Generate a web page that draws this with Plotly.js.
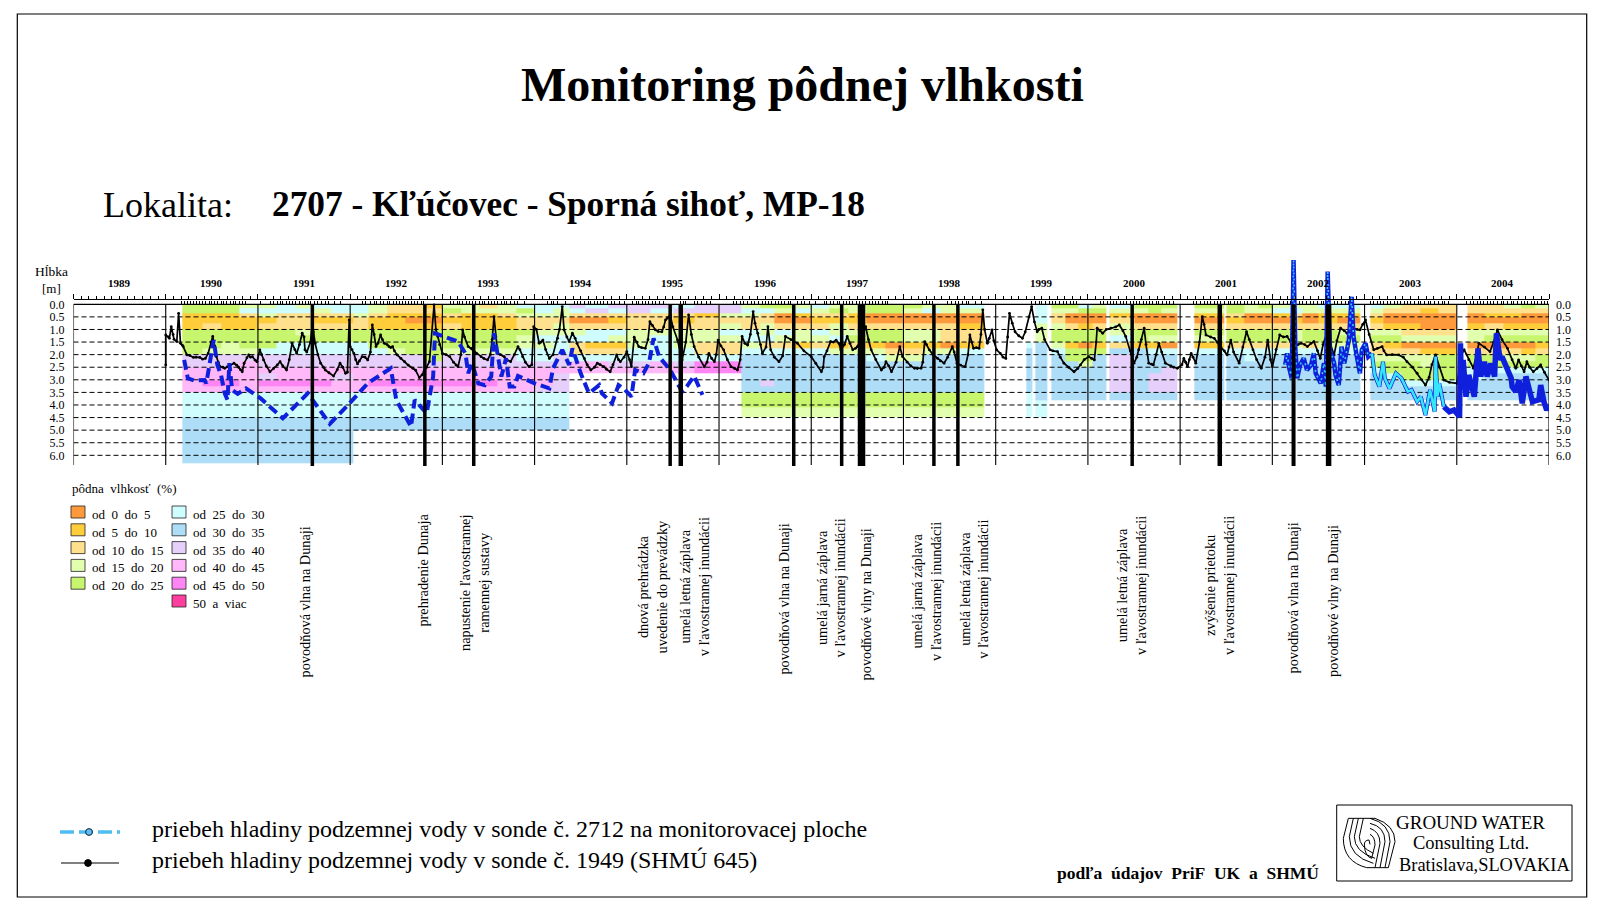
<!DOCTYPE html>
<html><head><meta charset="utf-8">
<script src="https://cdn.plot.ly/plotly-3.0.1.min.js"></script>
<style>html,body{margin:0;padding:0;background:#fff}#c{width:1602px;height:916px}</style>
</head><body><div id="c"></div>
<script>
// ---------- axis labels
const yearLabels=[1989,1990,1991,1992,1993,1994,1995,1996,1997,1998,1999,2000,2001,2002,2003,2004];
const yearEdges=[1989,1990,1991,1992,1993,1994,1995,1996,1997,1998,1999,2000,2001,2002,2003,2004,2005];
const depthTicks=[0,0.5,1,1.5,2,2.5,3,3.5,4,4.5,5,5.5,6];
const depthText=['0.0','0.5','1.0','1.5','2.0','2.5','3.0','3.5','4.0','4.5','5.0','5.5','6.0'];

// ---------- groundwater level, probe 1949 (SHMU 645): main turning points
const probe1949Date=[1990,1990,1990.04,1990.06,1990.09,1990.12,1990.14,1990.16,1990.19,1990.23,1990.3,1990.37,1990.43,1990.46,1990.51,1990.55,1990.59,1990.64,1990.7,1990.74,1990.79,1990.83,1990.85,1990.9,1990.94,1990.99,
1991.02,1991.06,1991.13,1991.21,1991.24,1991.31,1991.37,1991.42,1991.48,1991.51,1991.59,1991.62,1991.68,1991.73,1991.82,1991.89,1991.95,1991.99,
1992,1992.04,1992.08,1992.13,1992.19,1992.24,1992.28,1992.33,1992.37,1992.42,1992.46,1992.51,1992.59,1992.68,1992.75,1992.8,1992.86,1992.91,1992.95,
1993,1993.08,1993.17,1993.22,1993.28,1993.33,1993.42,1993.49,1993.56,1993.6,1993.67,1993.74,1993.82,1993.87,1993.94,1993.99,
1994.05,1994.09,1994.16,1994.25,1994.3,1994.32,1994.375,1994.41,1994.46,1994.54,1994.61,1994.68,1994.75,1994.82,1994.89,1994.93,
1995,1995.05,1995.08,1995.13,1995.2,1995.25,1995.31,1995.38,1995.42,1995.47,1995.55,1995.6,1995.67,1995.73,1995.84,1995.89,1995.95,1995.99,
1996.05,1996.13,1996.2,1996.25,1996.31,1996.37,1996.42,1996.47,1996.53,1996.56,1996.65,1996.72,1996.85,
1997,1997.11,1997.14,1997.21,1997.27,1997.32,1997.39,1997.45,1997.5,1997.59,1997.65,1997.76,1997.81,1997.87,1997.96,1997.99,
1998.12,1998.19,1998.23,1998.28,1998.37,1998.44,1998.53,1998.58,1998.67,1998.72,1998.76,1998.82,1998.86,1998.91,1998.96,
1999.01,1999.11,1999.15,1999.21,1999.29,1999.39,1999.45,1999.5,1999.59,1999.67,1999.74,1999.85,1999.92,
2000.01,2000.07,2000.1,2000.16,2000.25,2000.34,2000.41,2000.5,2000.55,2000.61,2000.66,2000.71,2000.77,2000.84,2000.97,
2001.04,2001.08,2001.12,2001.17,2001.24,2001.28,2001.37,2001.44,2001.51,2001.55,2001.64,2001.72,2001.79,2001.88,2001.95,
2002,2002.08,2002.16,2002.24,2002.31,2002.38,2002.45,2002.52,2002.59,2002.67,2002.74,2002.81,2002.88,2002.95,
2003.01,2003.1,2003.19,2003.24,2003.37,2003.46,2003.57,2003.66,2003.77,2003.86,
2004,2004.08,2004.18,2004.24,2004.36,2004.44,2004.55,2004.64,2004.67,2004.73,2004.76,2004.83,2004.91,2005];
const probe1949Depth=[2.41,1.22,1.35,0.89,1.39,1.48,0.36,1.55,1.68,2.01,2.11,2.11,2.15,1.95,1.28,2.08,2.48,2.54,2.41,2.34,2.5,2.68,2.34,2.01,2.08,2.28,
1.81,2.21,2.68,2.41,2.28,2.61,1.55,1.95,1.15,1.81,0.75,1.55,2.34,2.61,2.85,2.34,2.74,0.62,
1.68,1.95,2.37,2.08,2.21,0.82,1.68,1.22,1.55,1.68,1.68,2.01,2.28,2.54,2.91,2.68,2.28,0.02,1.28,
1.95,2.08,2.48,1.02,1.68,1.81,2.08,2.21,0.49,1.95,2.08,2.28,1.68,2.08,2.48,0.89,
1.55,1.42,2.15,1.35,0.09,1.02,1.48,1.15,1.55,2.15,2.61,2.34,2.48,2.68,2.01,2.28,
1.88,2.48,1.31,1.68,1.75,0.69,1.02,1.09,0.62,0.42,1.42,2.21,0.42,1.68,2.48,1.95,2.28,1.42,
1.81,2.48,2.61,1.28,1.62,0.29,1.15,1.95,0.89,1.81,2.28,1.28,1.55,
2.08,2.68,2.08,1.48,1.42,1.81,1.28,1.81,1.68,0.89,1.81,2.61,2.28,2.68,1.68,2.08,
2.54,2.54,1.48,1.81,2.15,2.34,1.68,2.34,2.48,1.22,1.75,1.75,0.22,1.55,1.02,
1.81,2.15,0.36,1.09,1.35,0.09,1.09,0.95,1.81,1.88,2.34,2.68,2.41,
2.08,2.21,0.95,1.15,0.95,0.82,1.28,2.34,1.81,0.95,2.34,2.41,1.55,2.34,2.54,
2.15,2.48,1.95,2.34,0.49,1.22,1.35,1.68,2.01,1.42,2.34,1.09,1.81,2.54,1.42,
2.48,1.22,1.28,1.68,1.55,1.68,1.48,2.15,1.15,2.01,0.95,1.15,0.95,1.02,
0.62,1.81,1.68,2.01,2.01,2.28,2.74,3.21,2.01,3.01,
3.14,1.81,2.54,1.55,1.88,1.02,1.75,2.54,2.21,2.68,2.28,2.68,2.41,3.01];
// further readings of the same curve between the turning points
const probe1949MoreDate=[1990.03,1990.08,1990.18,1990.26,1990.33,1990.4,1990.49,1990.53,1990.57,1990.62,1990.67,1990.77,1990.81,1990.88,1990.92,1990.97,1991.04,1991.09,1991.17,1991.27,1991.34,1991.4,1991.45,1991.5,1991.53,1991.57,1991.6,1991.65,1991.71,1991.77,1991.86,1991.92,1991.97,
1992.02,1992.06,1992.1,1992.16,1992.22,1992.26,1992.3,1992.35,1992.4,1992.44,1992.48,1992.55,1992.63,1992.71,1992.78,1992.83,1992.93,1992.97,
1993.04,1993.12,1993.15,1993.2,1993.24,1993.31,1993.37,1993.45,1993.52,1993.54,1993.58,1993.63,1993.7,1993.78,1993.84,1993.9,1993.97,
1994.02,1994.07,1994.12,1994.2,1994.27,1994.35,1994.44,1994.5,1994.57,1994.65,1994.71,1994.78,1994.85,1994.91,1994.97,
1995.03,1995.11,1995.16,1995.23,1995.28,1995.34,1995.4,1995.44,1995.5,1995.58,1995.64,1995.7,1995.78,1995.87,1995.92,1995.97,
1996.02,1996.09,1996.17,1996.23,1996.28,1996.34,1996.39,1996.45,1996.51,1996.6,1996.69,1996.78,1996.92,1997.05,
1997.13,1997.17,1997.24,1997.3,1997.36,1997.42,1997.48,1997.55,1997.62,1997.7,1997.79,1997.84,1997.92,
1998.04,1998.08,1998.15,1998.21,1998.25,1998.32,1998.4,1998.48,1998.55,1998.62,1998.7,1998.74,1998.79,1998.84,1998.88,1998.93,1998.98,
1999.05,1999.08,1999.13,1999.18,1999.25,1999.32,1999.36,1999.42,1999.47,1999.53,1999.62,1999.7,1999.79,1999.89,1999.96,
2000.04,2000.09,2000.13,2000.2,2000.3,2000.38,2000.46,2000.53,2000.58,2000.63,2000.69,2000.74,2000.8,2000.9,2000.93,
2001.02,2001.06,2001.1,2001.14,2001.21,2001.26,2001.33,2001.4,2001.48,2001.53,2001.58,2001.68,2001.75,2001.83,2001.92,2001.98,
2002.04,2002.12,2002.2,2002.28,2002.35,2002.42,2002.49,2002.55,2002.63,2002.7,2002.78,2002.85,2002.92,2002.98,
2003.05,2003.14,2003.21,2003.3,2003.42,2003.52,2003.62,2003.7,2003.73,2003.81,2003.92,
2004.04,2004.06,2004.13,2004.21,2004.3,2004.4,2004.49,2004.6,2004.7,2004.79,2004.87,2004.95];
const probe1949MoreDepth=[1.3,1.2,1.62,2.03,2.1,2.18,1.5,1.65,2.3,2.5,2.48,2.42,2.6,2.12,2.1,2.22,2,2.45,2.55,2.45,2.2,1.8,1.6,1.3,1.9,1.5,1.1,2,2.5,2.72,2.6,2.5,2.7,
1.8,2.2,2.25,2.1,1.9,1.2,1.55,1.4,1.6,1.72,1.85,2.15,2.42,2.62,2.8,2.5,1,1.6,
2,2.3,2.42,2,1.3,1.75,1.95,2.15,2,1.4,1.3,2,2.2,2,1.8,2.3,2.4,
1,1.5,1.8,2,1,1.3,1.35,1.85,2.4,2.5,2.4,2.58,2.4,2.2,2.1,
2.2,1.5,1.72,1.4,0.85,1.08,0.9,0.55,0.9,1.9,1.5,1.2,2.1,2.3,2.15,2,
1.65,2.2,2.55,2.2,1.55,1.2,0.75,1.6,1.7,2.1,2.05,1.4,1.85,2.35,
2.5,1.85,1.5,1.55,1.6,1.55,1.75,1.3,1.4,2.2,2.5,2.45,2.3,
2.3,2.45,2.55,2.3,1.6,2,2.25,2.1,1.9,2.42,2,1.5,1.72,1.2,1,1.35,1.45,
1.95,2.1,1.3,0.75,1.25,1.1,0.5,0.7,1,1.4,1.85,2.1,2.5,2.55,2.2,
2.15,1.5,1.05,1,0.9,1.05,1.85,2.1,1.4,1.6,2.38,2,1.9,2.45,2.5,
2.4,2.3,2.2,2.1,1.5,0.8,1.3,1.5,1.85,1.7,1.9,1.7,1.4,2.2,2.1,2.2,
1.8,1.3,1.5,1.6,1.6,1.55,1.85,1.6,1.6,1.45,1.05,1.05,1,0.8,
1.2,1.75,1.85,2,2.1,2.5,3,2.9,2.4,2.5,3.1,
2.4,1.9,2.2,2.05,1.7,1.5,1.4,2.2,2.45,2.5,2.55,2.7];

// ---------- groundwater level, probe 2712 (early dashed record)
const probe2712Date=[1990.2,1990.24,1990.31,1990.42,1990.44,1990.47,1990.52,1990.56,1990.6,1990.64,1990.67,1990.69,1990.72,1990.78,1990.87,1991.03,1991.27,1991.54,1991.78,1992.01,1992.19,1992.44,1992.5,1992.66,1992.7,1992.83,1992.9,1992.92,1993.17,1993.25,1993.28,1993.32,1993.39,1993.46,1993.53,1993.56,1993.64,1993.69,1993.73,1993.78,1993.82,1994,1994.11,1994.16,1994.2,1994.3,1994.375,1994.41,1994.5,1994.59,1994.7,1994.73,1994.84,1994.91,1994.98,1995.05,1995.09,1995.18,1995.24,1995.29,1995.35,1995.47,1995.6,1995.65,1995.73,1995.82];
const probe2712Depth=[2.21,2.94,3.03,3.01,3.14,2.48,1.42,2.41,2.81,3.54,3.8,2.34,3.4,3.56,3.34,3.74,4.53,3.54,4.75,3.87,3.14,2.54,3.8,4.86,3.8,4.33,2.87,1.15,1.48,1.95,2.74,2.34,3.14,3.21,2.87,1.15,2.87,2.15,3.27,3.27,2.85,3.14,3.27,3.34,2.54,1.81,2.41,1.75,2.74,3.54,3.21,3.54,3.93,3.21,3.4,3.67,2.61,2.74,2.34,1.35,2.08,2.61,3.47,3.27,2.85,3.6];

// ---------- groundwater level, probe 2712 (dense record from 2002)
const denseDate=[2002.14,2002.16,2002.18,2002.21,2002.23,2002.25,2002.27,2002.3,2002.34,2002.375,2002.42,2002.45,2002.47,2002.525,2002.56,2002.58,2002.6,2002.625,2002.67,2002.685,2002.72,2002.75,2002.78,2002.83,2002.86,2002.88,2002.91,2002.95,2002.97,2003.01,2003.04,2003.08];
const denseDepth=[2.41,1.95,2.48,2.94,-1.76,1.81,2.94,2.41,2.15,2.61,2.41,1.95,2.74,3.14,2.34,3.27,-1.3,1.81,2.34,2.81,3.21,1.68,2.34,1.42,-0.3,1.28,1.95,2.74,1.81,1.55,2.08,1.95];
const mixedDate=[2003.08,2003.11,2003.16,2003.2,2003.22,2003.27,2003.34,2003.4,2003.47,2003.51,2003.57,2003.61,2003.66,2003.71,2003.76,2003.77,2003.79,2003.81,2003.86];
const mixedDepth=[1.95,2.81,3.27,2.28,2.94,3.34,2.74,2.94,3.47,3.4,3.87,3.67,4.4,3.4,4.27,2.08,3.67,3.14,4.07];
const lateDate=[2003.86,2003.92,2003.97,2004.03,2004.04,2004.05,2004.07,2004.1,2004.13,2004.19,2004.23,2004.26,2004.3,2004.33,2004.37,2004.41,2004.43,2004.47,2004.49,2004.55,2004.59,2004.6,2004.64,2004.675,2004.71,2004.75,2004.78,2004.82,2004.89,2004.91,2004.945,2004.975,2005];
const lateDepth=[4.07,4.27,4.2,4.47,1.55,3.27,2.21,3.67,2.81,3.67,1.75,2.87,2.28,2.87,2.35,2.87,1.15,2.21,2.08,2.61,2.94,3.27,3.47,3.01,3.94,2.87,3.4,3.87,3.8,3.21,3.87,4.2,4];

// ---------- events (thick vertical lines)
const eventDates=[1991.59,1992.81,1993.34,1995.47,1995.585,1996.81,1997.33,1997.545,1998.33,1998.59,2000.48,2001.43,2002.23,2002.61];
const eventWeights=[3.5,3.5,3.5,3.5,4.5,3.5,3.5,7.5,3.5,3.5,3.5,4.5,4,5.5];
const eventText=['povodňová vlna na Dunaji','prehradenie Dunaja','napustenie ľavostrannej<br>ramennej sustavy','dnová prehrádzka<br>uvedenie do prevádzky','umelá letná záplava<br>v ľavostrannej inundácii','povodňová vlna na Dunaji','umelá jarná záplava<br>v ľavostrannej inundácii','povodňové vlny na Dunaji','umelá jarná záplava<br>v ľavostrannej inundácii','umelá letná záplava<br>v ľavostrannej inundácii','umelá letná záplava<br>v ľavostrannej inundácii','zvýšenie prietoku<br>v ľavostrannej inundácii','povodňová vlna na Dunaji','povodňové vlny na Dunaji'];
const eventTextX=[304.5,423,474.6,652.4,694.8,783.6,831,866.4,926,973.7,1131,1219,1292.5,1333];
const eventTextY=[602,569.6,583.4,587,586.5,599,588.5,604,592,589,586,586,598,601];

// ---------- measurement dates on the upper ruler (hundredths of a year, by year)
const md1990=[17,20,24,27,30,33,37,40,43,47,50,53,56,60,63,66,70,73,76,80,83,86];
const md1991=[3,14,17,21,24,27,31,34,38,41,45,48,52,55,57,61,65,69,73,77,83,90];
const md1992=[13,17,22,26,29,33,36,40,43,47,50,53,57,60,63,67,70,73,77,80];
const md1993=[9,12,16,19,22,26,29,33,36,40,43,46,50,53,57,60,64,67,70,74,78,82,89];
const md1994=[14,18,21,25,33,43,47,50,54,58,61,65,68,72,75,79,83,87,92,97];
const md1995=[6,10,13,17,20,24,28,31,35,40,58,61,64,73,77,81,86,91];
const md1996=[16,19,23,27,31,35,38,43,47,50,54,57,61,64,68,71,75,78,85,89,93,98];
const md1997=[5,14,17,21,24,28,31,35,38,42,45,49,52,56,59,63,66,70,73,77,80,83];
const md1998=[21,25,28,32,48,52,56,60,64,68,71,78,85];
const md1999=[39,43,47,50,54,58,62,65,69,73,77,81,84,88];
const md2000=[14,17,21,24,28,31,35,39,42,46,49,53,56,60,63,67,70,74,77,81,85,89,93];
const md2001=[15,18,22,26,30,33,37,41,44,48,52,55,59,62,66,70,73,77,81,85,89,93,97];
const md2002=[8,12,16,20,29,33,37,41,45,49,53,56,67,71,75,79,83];
const md2003=[6,10,14,17,21,25,28,32,36,39,43,47,50,54,58,61,65,69,72,76,80,84,87,91];
const md2004=[11,15,18,22,26,29,33,37,40,44,48,51,55,59,62,66,70,73,77,81,84,88,92,95,98];
const mdYears=[[1990,md1990],[1991,md1991],[1992,md1992],[1993,md1993],[1994,md1994],[1995,md1995],[1996,md1996],[1997,md1997],[1998,md1998],[1999,md1999],[2000,md2000],[2001,md2001],[2002,md2002],[2003,md2003],[2004,md2004]];

// ---------- soil moisture: class of each depth layer (top to bottom), one list per time column
const layerEdges=[0,.15,.35,.5,.75,1,1.25,1.5,1.75,2,2.25,2.5,2.75,3,3.25,3.5,3.8,4.1,4.5,5,5.6,6.3];
const columnEdges=[1990.18,1990.4,1990.6,1990.8,1991,1991.2,1991.4,1991.6,1991.8,1992.03,1992.2,1992.4,1992.6,1992.8,1993,1993.2,1993.4,1993.6,1993.8,1994,1994.2,1994.375,1994.55,1994.8,1995,1995.25,1995.5,1995.73,1996,1996.24,1996.45,1996.6,1996.8,1997,1997.2,1997.4,1997.6,1997.8,1998,1998.2,1998.4,1998.6,1998.88,1999.33,1999.4,1999.43,1999.56,1999.6,1999.75,1999.9,2000.05,2000.2,2000.23,2000.5,2000.65,2000.8,2000.97,2001.15,2001.48,2001.5,2001.7,2001.85,2002,2002.2,2002.33,2002.5,2002.7,2002.95,2003.06,2003.2,2003.4,2003.6,2003.8,2003.99,2004.11,2004.3,2004.5,2004.7,2004.85,2005];
const m1990=[[5,5,2,2,2,5,5,5,5,8,8,9,9,9,9,6,6,6,7,7,7],[5,5,2,2,3,5,5,5,4,8,8,9,9,10,9,6,6,6,7,7,7],[5,5,2,2,2,5,5,4,4,8,8,9,9,10,9,6,6,6,7,7,7],[4,6,3,2,2,5,5,5,4,8,9,9,9,9,9,6,6,6,7,7,7]];
const m1991=[[4,6,4,2,3,5,5,5,6,8,8,9,8,10,9,6,6,6,7,7,7],[6,6,3,3,3,5,5,6,6,8,8,9,9,10,9,6,6,6,7,7,7],[4,6,3,3,3,4,5,6,6,8,8,9,9,10,9,6,6,6,7,7,7],[6,4,3,2,3,5,5,6,6,8,8,9,9,10,9,6,6,6,7,7,7],[6,6,3,2,3,5,5,6,6,8,8,9,8,9,9,6,6,6,7,7,7]];
const m1992=[[6,6,4,3,3,5,5,6,6,8,8,9,9,9,9,6,6,6,7],[4,4,3,2,2,5,5,5,6,8,8,9,9,10,9,6,6,6,7],[3,3,2,2,2,5,5,5,4,8,8,9,9,10,9,6,6,6,7],[3,3,2,1,2,5,5,5,5,8,8,9,9,10,9,6,6,6,7],[2,3,2,1,2,5,5,5,5,5,8,9,9,10,9,6,6,6,7]];
const m1993=[[4,5,3,2,3,5,5,5,4,8,8,9,9,10,9,6,6,6,7],[4,4,2,2,2,5,5,5,4,8,8,9,9,10,9,6,6,6,7],[3,4,2,2,2,5,5,5,4,8,8,9,9,10,9,6,6,6,7],[4,4,3,2,2,5,5,5,4,8,8,9,9,9,9,6,6,6,7],[6,5,4,3,3,5,4,4,6,6,8,9,9,9,9,6,6,6,7]];
const m1994=[[6,6,4,3,3,4,6,4,6,6,8,9,9,9,8,6,6,6,7],[6,4,4,3,4,4,6,6,6,8,8,9,8,8,8,6,6,6,7],[8,6,3,1,3,4,6,3,3,6,9,9],[6,8,3,1,3,6,6,2,3,6,9,9],[8,6,3,2,3,6,4,2,3,6,8,9]];
const m1995=[[8,8,3,3,3,4,4,4,6,6,8,9],[8,6,3,3,3,4,6,6,6,6,9,9],[6,8,3,2,3,4,4,4,6,6,8,9],[8,8,2,3,3,4,4,3,3,6,10,10]];
const m1996=[[8,8,4,3,4,6,4,3,3,6,10,10],[4,6,4,3,3,6,6,4,6,7,7,7,7,7,7,5,5,4],[5,6,3,3,4,4,6,3,6,7,7,7,7,8,7,5,5,4],[5,4,1,1,3,6,4,3,6,7,7,7,7,7,7,5,5,4],[4,6,2,1,3,4,4,2,6,7,7,7,7,7,7,5,5,4]];
const m1997=[[6,4,3,2,3,6,4,3,6,7,7,7,7,7,7,5,5,4],[4,5,3,2,4,4,6,2,4,7,7,7,7,7,7,5,5,4],[4,4,2,2,3,4,5,3,4,7,7,7,7,7,7,5,5,4],[5,5,1,1,3,5,5,2,4,6,7,7,7,7,7,5,5,4],[5,5,1,1,3,5,5,1,3,4,7,7,7,7,7,5,5,4]];
const m1998=[[5,4,1,1,3,4,4,2,3,4,7,7,7,7,7,5,5,4],[4,6,1,1,3,4,4,2,4,7,7,7,7,7,7,5,5,4],[4,4,1,1,3,3,3,1,4,7,7,7,7,7,7,5,5,4],[6,4,1,1,2,3,3,2,6,7,7,7,7,7,7,5,5,4],[]];
const m1999=[[0,0,0,0,0,0,0,6,7,7,7,7,7,7,7,6,6,6],[],[6,6,6,6,4,4,4,7,7,7,7,7,7,7,7,7,6,6],[],[5,4,3,3,4,5,5,4,6,7,7,7,7,7,7,7],[5,4,1,1,3,5,5,2,5,5,7,7,7,7,7,7],[6,5,1,1,2,5,5,1,5,5,4,7,7,7,7,7]];
const m2000=[[4,5,1,1,3,5,5,2,5,7,7,7,7,7,7,7],[],[6,4,2,3,4,4,6,3,7,8,8,8,8,8,8,7],[5,4,1,1,3,5,5,2,7,7,7,7,7,7,7,7],[5,5,1,1,3,5,4,2,6,7,7,7,8,8,8,7],[5,4,1,1,3,5,4,1,6,7,7,8,8,8,8,7],[]];
const m2001=[[5,4,2,1,3,5,4,2,6,7,7,7,7,7,7,7],[],[5,5,3,2,3,5,5,3,6,7,7,7,7,7,7,7],[4,4,1,1,3,5,5,3,6,6,7,7,7,7,7,7],[5,4,1,1,3,5,5,3,6,7,7,7,7,7,7,7]];
const m2002=[[4,6,2,1,3,5,5,3,6,7,7,7,7,7,7,7],[4,6,3,2,3,4,4,4,6,7,7,7,7,7,7,7],[4,4,1,1,3,5,5,3,6,7,7,7,7,7,7,7],[6,4,2,2,3,5,5,4,6,7,7,7,7,7,7,7],[6,4,2,1,3,4,5,4,6,7,7,7,7,7,7,7],[]];
const m2003=[[6,4,3,2,3,4,5,3,3,4,5,6,7,7,7,7],[4,3,1,1,2,4,5,2,3,4,5,5,6,7,7,7],[3,3,1,1,2,3,4,1,3,4,5,5,5,6,7,7],[3,2,1,1,1,3,4,1,2,4,4,5,5,6,7,7],[3,3,1,1,1,3,4,1,2,5,5,5,5,6,7,7],[]];
const m2004=[[3,3,1,1,2,4,4,1,3,5,5,6,6,7,7,7],[3,3,2,1,3,4,5,1,3,5,5,6,7,7,7,7],[4,3,2,1,2,4,5,1,3,4,5,6,7,7,7,7],[5,3,1,1,2,4,5,1,2,4,5,6,7,7,7,7],[4,3,1,1,2,4,5,2,3,5,5,6,7,7,7,7]];

// ---------- legend
const classNames=['od&nbsp; 0&nbsp; do&nbsp; 5','od&nbsp; 5&nbsp; do&nbsp; 10','od&nbsp; 10&nbsp; do&nbsp; 15','od&nbsp; 15&nbsp; do&nbsp; 20','od&nbsp; 20&nbsp; do&nbsp; 25','od&nbsp; 25&nbsp; do&nbsp; 30','od&nbsp; 30&nbsp; do&nbsp; 35','od&nbsp; 35&nbsp; do&nbsp; 40','od&nbsp; 40&nbsp; do&nbsp; 45','od&nbsp; 45&nbsp; do&nbsp; 50','50&nbsp; a&nbsp; viac'];
const classColors=['#FF9A3C','#FFCC3A','#FFE08C','#E2FFB0','#C8F56E','#CFFCFC','#AEDDF8','#E6CFFA','#FFB8F8','#FF85F5','#FF3FA0'];

// ---------- drawing
const W=1602,H=916,SERIF='"Liberation Serif"';
const X0=73.5,X1=1549,Ytop=250,Ybot=466;
const depthAt=p=>(p-304.3)/25.17;
const yRange=[depthAt(Ybot),depthAt(Ytop)];
const px=x=>x/W, py=y=>1-y/H;

const columns=[].concat(m1990,m1991,m1992,m1993,m1994,m1995,m1996,m1997,m1998,m1999,m2000,m2001,m2002,m2003,m2004);
const nLayers=layerEdges.length-1;
const z=[];
for(let r=0;r<nLayers;r++){z.push(columns.map(c=>(c[r]?c[r]:null)));}
const scale=[];
classColors.forEach((c,i)=>{scale.push([i/11,c]);scale.push([(i+1)/11,c]);});

function multi(xs,y0,y1){const a=[],b=[];xs.forEach(v=>{a.push(v,v,null);b.push(y0,y1,null);});return [a,b];}
function rules(ds){const a=[],b=[];ds.forEach(d=>{a.push(1989,2005,null);b.push(d,d,null);});return [a,b];}
const [gx,gy]=rules(depthTicks.slice(1));
const [yx,yy]=multi(yearEdges,0,6.38);
const blackOrder=probe1949Date.concat(probe1949MoreDate).map((d,i)=>[d,probe1949Depth.concat(probe1949MoreDepth)[i]]).sort((p,q)=>p[0]-q[0]);

const traces=[
 {type:'heatmap',x:columnEdges,y:layerEdges,z:z,zmin:.5,zmax:11.5,colorscale:scale,showscale:false,hoverinfo:'skip',zsmooth:false},
 {type:'scatter',mode:'lines',x:gx,y:gy,line:{color:'#000',width:1,dash:'5px,3px'},hoverinfo:'skip'},
 {type:'scatter',mode:'lines',x:[1989,2005],y:[0,0],line:{color:'#000',width:1.2},hoverinfo:'skip'},
 {type:'scatter',mode:'lines',x:yx,y:yy,line:{color:'#000',width:1.1},hoverinfo:'skip'}
];
eventDates.forEach((d,i)=>traces.push({type:'scatter',mode:'lines',x:[d,d],y:[0,6.46],line:{color:'#000',width:eventWeights[i]},xaxis:'x2',yaxis:'y2',hoverinfo:'skip'}));
traces.push(
 {type:'scatter',mode:'lines+markers',x:blackOrder.map(p=>p[0]),y:blackOrder.map(p=>p[1]),line:{color:'#000',width:1.7},marker:{color:'#000',size:2.8},hoverinfo:'skip'},
 {type:'scatter',mode:'lines',x:probe2712Date,y:probe2712Depth,line:{color:'#0F20DC',width:4,dash:'10px,5px'},hoverinfo:'skip'},
 {type:'scatter',mode:'lines',x:lateDate,y:lateDepth,line:{color:'#0F20DC',width:5.5},hoverinfo:'skip'},
 {type:'scatter',mode:'lines',x:denseDate,y:denseDepth,line:{color:'#0F20DC',width:4.5},hoverinfo:'skip'},
 {type:'scatter',mode:'lines',x:mixedDate,y:mixedDepth,line:{color:'#0F20DC',width:4},hoverinfo:'skip'},
 {type:'scatter',mode:'lines',x:denseDate,y:denseDepth,line:{color:'#38C8F8',width:1.6,dash:'2px,4px'},hoverinfo:'skip'},
 {type:'scatter',mode:'lines',x:mixedDate,y:mixedDepth,line:{color:'#35E6FA',width:2.6},hoverinfo:'skip'}
);

// ruler ticks
const monthTicks=[];
yearEdges.slice(0,-1).forEach(y=>{for(let m=1;m<12;m++)monthTicks.push(y+m/12);});
const measureTicks=[];
mdYears.forEach(([y,a])=>a.forEach(h=>measureTicks.push(y+h/100)));

const anns=[];
function T(text,x,y,size,opt){anns.push(Object.assign({xref:'paper',yref:'paper',x:px(x),y:py(y),text:text,showarrow:false,xanchor:'left',yanchor:'middle',borderpad:0,font:{family:SERIF,size:size,color:'#000'}},opt||{}));}
T('<b>Monitoring pôdnej vlhkosti</b>',802,85,48,{xanchor:'center'});
T('Lokalita:',102,205,36);
T('<b>2707 - Kľúčovec - Sporná sihoť, MP-18</b>',271,205,35.3);
T('Hĺbka',51,271,13.5,{xanchor:'center'});
T('[m]',51,288,13,{xanchor:'center'});
yearLabels.forEach(y=>anns.push({xref:'x',yref:'paper',x:y+.5,y:py(283.5),text:'<b>'+y+'</b>',showarrow:false,xanchor:'center',yanchor:'middle',font:{family:SERIF,size:11,color:'#000'}}));
eventText.forEach((t,i)=>T(t,eventTextX[i],eventTextY[i],14.3,{xanchor:'center',textangle:-90,align:'center'}));
T('pôdna&nbsp; vlhkosť&nbsp; (%)',71,488,13);
const shapes=[];
function R(x0,y0,x1,y1,line,fill){shapes.push({type:'rect',xref:'paper',yref:'paper',x0:px(x0),x1:px(x1),y0:py(y0),y1:py(y1),line:line,fillcolor:fill||'rgba(0,0,0,0)'});}
classNames.forEach((n,i)=>{
 const left=i<5, row=left?i:i-5;
 const sx=left?71:172, cy=512+row*17.8;
 R(sx,cy-6,sx+14,cy+6,{color:'#222',width:.8},classColors[i]);
 T(n,sx+20,cy+2.5,13);
});
// bottom legend
R(17.3,14,1586.7,897,{color:'#000',width:1.2});
R(1336.7,805,1572,881,{color:'#000',width:1});
function L(x0,y,x1,line){shapes.push({type:'line',xref:'paper',yref:'paper',x0:px(x0),x1:px(x1),y0:py(y),y1:py(y),line:line});}
L(60,832,120,{color:'#4FBDF0',width:3.4,dash:'14px,5px'});
L(61,863,119,{color:'#000',width:1});
function C(cx,cy,r,fill,stroke){shapes.push({type:'circle',xref:'paper',yref:'paper',x0:px(cx-r),x1:px(cx+r),y0:py(cy-r),y1:py(cy+r),fillcolor:fill,line:{color:stroke,width:1}});}
C(89,832,3.4,'#5FBFF0','#102040');
C(88,863,3.4,'#000','#000');
T('priebeh hladiny podzemnej vody v sonde č. 2712 na monitorovacej ploche',151,829,24);
T('priebeh hladiny podzemnej vody v sonde č. 1949 (SHMÚ 645)',151,860,24);
T('<b>podľa&nbsp; údajov&nbsp; PriF&nbsp; UK&nbsp; a&nbsp; SHMÚ</b>',1056,873,17.5);
T('GROUND WATER',1470,822,19,{xanchor:'center'});
T('Consulting Ltd.',1471,843,18.5,{xanchor:'center'});
T('Bratislava,SLOVAKIA',1484,865,18.4,{xanchor:'center'});
// logo outline
const logoPaths=['M85,70 L165,70 Q225,90 225,140 L205,218 L140,218 Q70,200 70,130 L85,70',
 'M100,70 L88,125 Q88,185 160,205','M115,70 L103,125 Q103,170 165,190','M130,70 L118,125 Q118,155 160,175',
 'M150,70 Q210,85 210,140 L195,218','M150,85 Q195,95 195,140 L180,218','M150,100 Q180,110 180,145 L165,218',
 'M150,118 Q165,125 165,150 L155,190 Q135,185 133,150 Q133,135 147,135 L150,148'];
logoPaths.forEach(p=>shapes.push({type:'path',xref:'paper',yref:'paper',line:{color:'#000',width:1},
 path:p.replace(/(\d+),(\d+)/g,(m,a,b)=>px(1320+a/3).toFixed(5)+','+py(795+b/3).toFixed(5))}));

const layout={width:W,height:H,margin:{l:0,r:0,t:0,b:0},paper_bgcolor:'#fff',plot_bgcolor:'rgba(0,0,0,0)',showlegend:false,hovermode:false,
 xaxis:{domain:[px(X0),px(X1)],range:[1989,2005],anchor:'free',position:py(299),side:'top',showgrid:false,zeroline:false,showline:true,linecolor:'#000',linewidth:1,
  tickmode:'array',tickvals:yearEdges,ticktext:yearEdges.map(()=>''),ticks:'outside',ticklen:5,tickcolor:'#000',tickwidth:1,
  minor:{tickmode:'array',tickvals:monthTicks,ticks:'outside',ticklen:3.5,tickcolor:'#000',tickwidth:1,showgrid:false}},
 xaxis2:{domain:[px(X0),px(X1)],range:[1989,2005],overlaying:'x',anchor:'free',position:py(304.3),side:'top',showgrid:false,zeroline:false,showline:false,
  tickmode:'array',tickvals:measureTicks,showticklabels:false,ticks:'outside',ticklen:3.5,tickcolor:'#000',tickwidth:1},
 yaxis:{domain:[py(Ybot),py(Ytop)],range:yRange,showgrid:false,zeroline:false,showline:false,anchor:'x',
  tickmode:'array',tickvals:depthTicks,ticktext:depthText,ticks:'',ticklabelposition:'outside',tickfont:{family:SERIF,size:12,color:'#000'},ticklabelstandoff:8},
 yaxis2:{domain:[py(Ybot),py(Ytop)],range:yRange,overlaying:'y',side:'right',anchor:'x2',showgrid:false,zeroline:false,showline:false,
  tickmode:'array',tickvals:depthTicks,ticktext:depthText,ticks:'',tickfont:{family:SERIF,size:12,color:'#000'},ticklabelstandoff:6},
 annotations:anns,shapes:shapes};
Plotly.newPlot('c',traces,layout,{displayModeBar:false,staticPlot:true});
</script></body></html>
